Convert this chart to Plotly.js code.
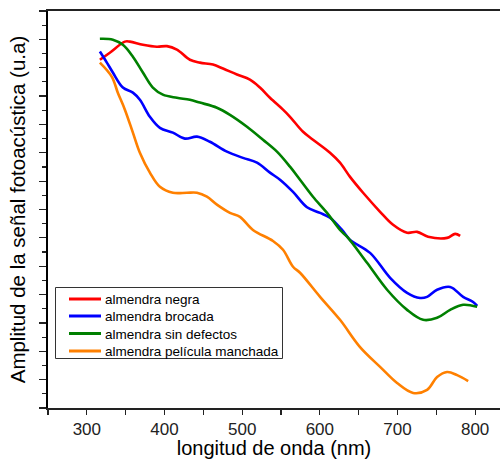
<!DOCTYPE html>
<html>
<head>
<meta charset="utf-8">
<script src="https://cdn.plot.ly/plotly-3.0.1.min.js"></script>
<style>html,body{margin:0;padding:0;background:#fff;}#chart{width:500px;height:459px;}</style>
</head>
<body>
<div id="chart"></div>
<script>
// Series names
const seriesNames = ["almendra negra", "almendra brocada", "almendra sin defectos", "almendra película manchada"];

// almendra negra
const negraX = [316.8,329.6,349,355.4,372.2,390.2,403.1,416,432.7,445.6,462.4,475.3,493.3,510,522.9,535.8,552.6,561.6,578.4,591.2,613.1,626,638.9,655.7,677.6,694.3,712.4,725.3,739.4,763.9,774.2,780.7];
const negraY = [12.28,12.53,12.92,12.92,12.81,12.74,12.76,12.64,12.28,12.18,12.11,11.97,11.76,11.58,11.30,10.94,10.52,10.27,9.74,9.46,9.00,8.65,8.15,7.59,6.92,6.46,6.18,6.21,6.04,6.00,6.14,6.07];

// almendra brocada
const brocadaX = [316.8,325.8,333.5,346.4,359.3,368.3,381.2,394.1,410.8,426.3,441.8,458.5,480.4,501,519.1,535.8,548.7,565.5,583.5,600.3,613.1,628.6,638.9,664.7,690.5,712.4,729.1,738.1,751,767.8,784.5,797.4,802.6];
const brocadaY = [12.57,12.18,11.83,11.30,11.12,10.87,10.27,9.88,9.71,9.50,9.57,9.39,9.04,8.82,8.65,8.30,8.05,7.62,7.08,6.88,6.71,6.28,5.93,5.47,4.59,4.06,3.88,3.92,4.17,4.27,3.92,3.74,3.60];

// almendra sin defectos
const sinDefX = [316.8,333.5,346.4,359.3,372.2,385,397.9,416,432.7,445.6,467.5,484.3,506.2,526.8,544.8,561.6,574.5,591.2,609.3,626,635,660.8,686.6,712.4,733,751,767.8,784.5,802.6];
const sinDefY = [13.02,12.99,12.81,12.39,11.83,11.30,11.05,10.94,10.87,10.77,10.59,10.34,9.92,9.46,9.04,8.51,8.05,7.45,6.88,6.28,6.04,5.12,4.17,3.46,3.11,3.18,3.46,3.64,3.57];

// almendra película manchada
const manchadaX = [316.8,332.2,339.9,349,359.3,368.3,381.2,394.1,410.8,428.9,441.8,454.6,467.5,484.3,497.2,513.9,539.7,552.6,565.5,574.5,600.3,626,651.8,677.6,699.5,720.1,738.1,751,763.9,776.8,791];
const manchadaY = [12.18,11.68,11.12,10.52,9.71,9.00,8.30,7.80,7.59,7.59,7.59,7.45,7.17,6.88,6.74,6.28,5.89,5.58,4.98,4.77,3.92,3.11,2.15,1.45,0.88,0.53,0.64,1.09,1.27,1.16,0.95];

const xTickVals = [300,400,500,600,700,800];
const xTickText = ["300","400","500","600","700","800"];

const colors = ["#FF0000", "#0000FF", "#008000", "#FF8000"];
const xs = [negraX, brocadaX, sinDefX, manchadaX];
const ys = [negraY, brocadaY, sinDefY, manchadaY];

const traces = seriesNames.map((n, i) => ({
  x: xs[i], y: ys[i], name: n, type: "scatter", mode: "lines",
  line: {color: colors[i], width: 2.6, shape: "spline", smoothing: 1}
}));

const font = "Arial, 'Liberation Sans', sans-serif";

// plot area in pixels: left 48, right 500, top 11, bottom 408
const PL = 48, PW = 452, PT = 11, PH = 397;
const px2x = p => (p - PL) / PW;
const px2y = p => (PT + PH - p) / PH;

// legend drawn in paper coordinates
const legBox = {x0: 55.5, x1: 282.5, y0: 287.5, y1: 358.5};
const legRows = [299, 316, 333.5, 351];
const shapes = [{
  type: "rect", xref: "paper", yref: "paper", layer: "above",
  x0: px2x(legBox.x0), x1: px2x(legBox.x1), y0: px2y(legBox.y1), y1: px2y(legBox.y0),
  line: {color: "#333", width: 1}, fillcolor: "#fff"
}];
const annotations = [];
seriesNames.forEach((n, i) => {
  shapes.push({
    type: "line", xref: "paper", yref: "paper", layer: "above",
    x0: px2x(69), x1: px2x(101), y0: px2y(legRows[i]), y1: px2y(legRows[i]),
    line: {color: colors[i], width: 3}
  });
  annotations.push({
    text: n, xref: "paper", yref: "paper", x: px2x(102.5), y: px2y(legRows[i] + 0.5),
    xanchor: "left", yanchor: "middle", showarrow: false,
    font: {size: 13.5, family: font, color: "#000"}
  });
});

const layout = {
  width: 500, height: 459,
  margin: {l: 48, r: 0, t: 11, b: 51, pad: 0},
  paper_bgcolor: "#fff", plot_bgcolor: "#fff",
  showlegend: false,
  font: {family: font, color: "#000"},
  shapes: shapes,
  annotations: annotations,
  xaxis: {
    range: [250, 832], showgrid: false, zeroline: false,
    showline: true, linecolor: "#222", linewidth: 2, mirror: true,
    ticks: "outside", ticklen: 5, tickwidth: 1.2, tickcolor: "#222",
    tickvals: xTickVals, ticktext: xTickText,
    tickfont: {size: 17, family: font, color: "#222"},
    minor: {ticks: "outside", ticklen: 5, tickwidth: 1.2, tickcolor: "#222", dtick: 50, tick0: 250, showgrid: false},
    title: {text: "longitud de onda (nm)", font: {size: 20, family: font, color: "#000"}, standoff: 5},
    automargin: false
  },
  yaxis: {
    range: [0, 14], showgrid: false, zeroline: false,
    showline: true, linecolor: "#000", linewidth: 2,
    ticks: "outside", ticklen: 7, tickwidth: 1.2, tickcolor: "#222",
    dtick: 1, tick0: 0, showticklabels: false,
    minor: {ticks: "outside", ticklen: 4, tickwidth: 1.2, tickcolor: "#222", dtick: 0.5, showgrid: false},
    title: {text: "Amplitud de la señal fotoacústica (u.a)", font: {size: 20.5, family: font, color: "#000"}, standoff: 8},
    automargin: false
  }
};

Plotly.newPlot("chart", traces, layout, {staticPlot: true, displayModeBar: false});
</script>
</body>
</html>
